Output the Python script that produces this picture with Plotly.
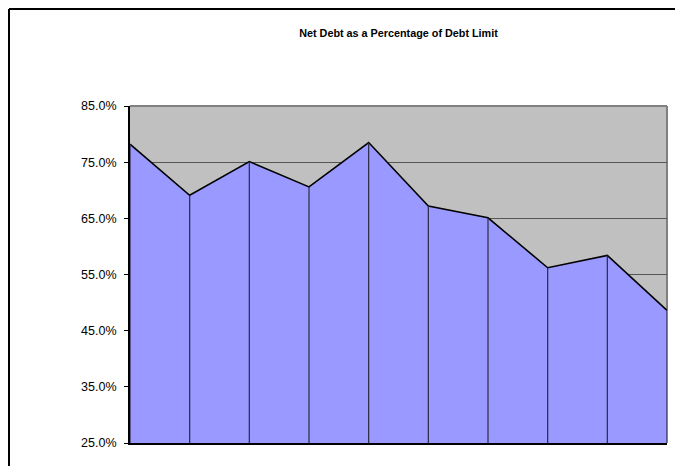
import plotly.graph_objects as go

# Data
periods = list(range(10))
net_debt_pct = [0.782, 0.691, 0.751, 0.706, 0.785, 0.672, 0.651, 0.562, 0.584, 0.486]
y_ticks = [0.25, 0.35, 0.45, 0.55, 0.65, 0.75, 0.85]

W, H = 667, 458
L, R, T, B = 122, 8, 98, 23
pw, ph = W - L - R, H - T - B

fig = go.Figure()

# Filled area
fig.add_trace(go.Scatter(
    x=periods, y=net_debt_pct, mode="lines",
    fill="tozeroy", fillcolor="#9999FF",
    line=dict(color="black", width=1.6),
    hoverinfo="skip", showlegend=False,
))

# Drop lines
dx, dy = [], []
for xv, yv in zip(periods, net_debt_pct):
    dx += [xv, xv, None]
    dy += [y_ticks[0], yv, None]
fig.add_trace(go.Scatter(
    x=dx, y=dy, mode="lines",
    line=dict(color="#2a2a40", width=1.2),
    hoverinfo="skip", showlegend=False,
))

# outer frame corners in paper coordinates (kept inside the figure)
fx0 = (1 - L) / pw
fx1 = (W - L) / pw
fy0 = -B / ph
fy1 = 1 + (T - 1) / ph

fig.update_layout(
    width=W, height=H,
    margin=dict(l=L, r=R, t=T, b=B),
    paper_bgcolor="white",
    plot_bgcolor="#C0C0C0",
    title=dict(
        text="<b>Net Debt as a Percentage of Debt Limit</b>",
        font=dict(family="Liberation Sans, Arial", size=10.8, color="black"),
        x=(L + pw / 2) / W, xanchor="center",
        y=1 - 25 / H, yanchor="middle",
    ),
    xaxis=dict(
        range=[periods[0], periods[-1]],
        showgrid=False, zeroline=False,
        showticklabels=False, ticks="",
        showline=True, linecolor="black", linewidth=2,
    ),
    yaxis=dict(
        range=[y_ticks[0], y_ticks[-1]],
        tickvals=y_ticks, tickformat=".1%",
        showgrid=True, gridcolor="#555555", gridwidth=1,
        zeroline=False,
        ticks="outside", ticklen=4, tickcolor="black", tickwidth=1,
        ticklabelstandoff=5,
        showline=True, linecolor="black", linewidth=2,
        tickfont=dict(family="Liberation Sans, Arial", size=12.5, color="black"),
    ),
    shapes=[
        # plot border top & right (gray)
        dict(type="line", xref="paper", yref="paper", x0=0, x1=1, y0=1, y1=1,
             line=dict(color="#808080", width=2), layer="above"),
        dict(type="line", xref="paper", yref="paper", x0=1, x1=1, y0=0, y1=1,
             line=dict(color="#808080", width=2), layer="below"),
        # outer chart border (top & left visible)
        dict(type="line", xref="paper", yref="paper",
             x0=fx0, x1=fx0, y0=fy0, y1=fy1,
             line=dict(color="black", width=2)),
        dict(type="line", xref="paper", yref="paper",
             x0=fx0, x1=fx1, y0=fy1, y1=fy1,
             line=dict(color="black", width=2)),
    ],
)

fig.write_html("out.html")
